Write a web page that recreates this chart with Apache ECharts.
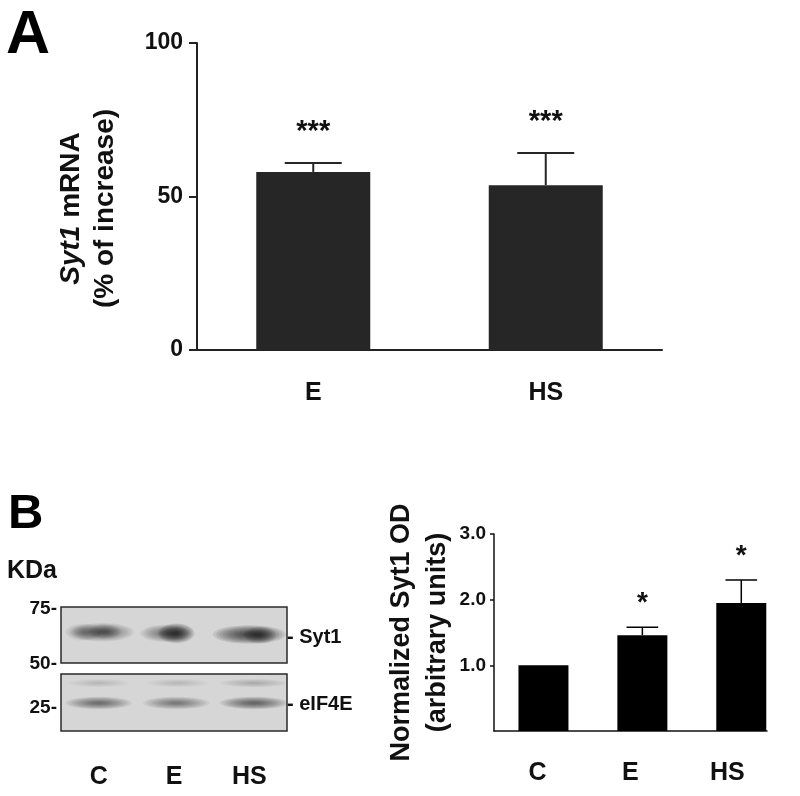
<!DOCTYPE html>
<html>
<head>
<meta charset="utf-8">
<script src="https://cdn.jsdelivr.net/npm/echarts@6/dist/echarts.min.js"></script>
<style>
  html, body { margin: 0; padding: 0; background: #fff; }
  #chart { width: 800px; height: 796px; }
</style>
</head>
<body>
<div id="chart"></div>
<script>
// ---------- Panel A data ----------
const catsA = ['E', 'HS'];
const meanA = [58.0, 53.7];
const semA = [2.9, 10.5];
const sigA = ['***', '***'];

// ---------- Panel B (densitometry) data ----------
const catsB = ['C', 'E', 'HS'];
const meanB = [1.0, 1.46, 1.95];
const semB = [0, 0.12, 0.35];
const sigB = ['', '*', '*'];
const ticksB = [1, 2, 3];

// ---------- Panel B (western blot) ----------
const lanes = ['C', 'E', 'HS'];
const kdaMarks = ['75-', '50-', '25-'];
const blotNames = ['Syt1', 'eIF4E'];
// band blobs: [lane position (0..3), height in box (0..1), half width, half height, intensity]
const syt1Blobs = [
  [0.30, 0.55, 0.22, 0.14, 0.35],
  [0.55, 0.55, 0.38, 0.15, 0.55],
  [0.58, 0.56, 0.20, 0.12, 0.35],
  [1.38, 0.53, 0.30, 0.14, 0.50],
  [1.53, 0.53, 0.22, 0.16, 1.00],
  [2.50, 0.51, 0.44, 0.15, 0.90],
  [2.64, 0.50, 0.20, 0.14, 0.60]
];
const eif4eBlobs = [
  [0.50, 0.49, 0.40, 0.10, 0.60],
  [1.53, 0.49, 0.40, 0.10, 0.50],
  [2.56, 0.49, 0.41, 0.10, 0.65],
  [0.50, 0.84, 0.38, 0.07, 0.10],
  [1.55, 0.84, 0.38, 0.07, 0.10],
  [2.56, 0.84, 0.41, 0.07, 0.20]
];

const FONT = '"Liberation Sans", Arial, Helvetica, sans-serif';

function errRender(sig, capFrac, lw, color, starGap, starSize) {
  return function (params, api) {
    const x = api.value(0), m = api.value(1), e = api.value(2);
    const base = api.coord([x, m]);
    const top = api.coord([x, m + e]);
    const bw = api.size([1, 0])[0];
    const half = bw * capFrac / 2;
    const children = [];
    if (e > 0) {
      children.push({ type: 'line', shape: { x1: base[0], y1: base[1], x2: top[0], y2: top[1] },
        style: { stroke: color, lineWidth: lw } });
      children.push({ type: 'line', shape: { x1: top[0] - half, y1: top[1], x2: top[0] + half, y2: top[1] },
        style: { stroke: color, lineWidth: lw } });
    }
    const s = sig[params.dataIndex];
    if (s) {
      children.push({ type: 'text', x: top[0], y: top[1] - starGap,
        style: { text: s, fontSize: starSize, fontWeight: 'bold', fontFamily: FONT, fill: '#111',
          align: 'center', verticalAlign: 'middle' } });
    }
    return { type: 'group', children: children };
  };
}

function blobRender(params, api) {
  const c = api.coord([api.value(0), api.value(1)]);
  const s = api.size([api.value(2), api.value(3)]);
  const I = api.value(4);
  const steps = [1.1, 1.0, 0.9, 0.8, 0.7, 0.6, 0.5, 0.4, 0.3, 0.2];
  return {
    type: 'group',
    children: steps.map(k => ({
      type: 'ellipse',
      shape: { cx: c[0], cy: c[1], rx: s[0] * k, ry: s[1] * k },
      style: { fill: 'rgba(0,0,0,' + (I * 0.1).toFixed(3) + ')' }
    }))
  };
}

const chart = echarts.init(document.getElementById('chart'), null, { renderer: 'canvas' });

const option = {
  animation: false,
  backgroundColor: '#ffffff',
  textStyle: { fontFamily: FONT },
  grid: [
    { left: 197, top: 43, width: 465, height: 307 },
    { left: 494, top: 534, width: 273, height: 197 },
    { left: 61, top: 607, width: 226, height: 56, show: true, backgroundColor: '#d6d6d6', borderColor: '#2a2a2a', borderWidth: 1.5 },
    { left: 61, top: 674, width: 226, height: 57, show: true, backgroundColor: '#d6d6d6', borderColor: '#2a2a2a', borderWidth: 1.5 }
  ],
  xAxis: [
    {
      gridIndex: 0, type: 'category', data: catsA,
      axisLine: { onZero: false, lineStyle: { color: '#222', width: 2 } },
      axisTick: { show: false },
      axisLabel: { fontSize: 25, fontWeight: 'bold', color: '#111', margin: 31, fontFamily: FONT },
      splitLine: { show: false }
    },
    {
      gridIndex: 1, type: 'value', min: -0.5, max: 2.26,
      axisLine: { show: true, onZero: false, lineStyle: { color: '#111', width: 1.5 } },
      axisTick: { show: false },
      splitLine: { show: false },
      axisLabel: {
        customValues: [0, 1, 2],
        margin: 30,
        formatter: function (v) { const i = Math.round(v); return '{c' + i + '|' + catsB[i] + '}'; },
        rich: {
          c0: { fontSize: 25, fontWeight: 'bold', color: '#111', fontFamily: FONT, padding: [0, 12, 0, 0] },
          c1: { fontSize: 25, fontWeight: 'bold', color: '#111', fontFamily: FONT, padding: [0, 24, 0, 0] },
          c2: { fontSize: 25, fontWeight: 'bold', color: '#111', fontFamily: FONT, padding: [0, 28, 0, 0] }
        }
      }
    },
    { gridIndex: 2, type: 'value', min: 0, max: 3, show: false },
    {
      gridIndex: 3, type: 'value', min: 0, max: 3,
      axisLine: { show: false, onZero: false }, axisTick: { show: false }, splitLine: { show: false },
      axisLabel: {
        customValues: [0.5, 1.5, 2.5],
        formatter: function (v) { return lanes[Math.floor(v)]; },
        fontSize: 25, fontWeight: 'bold', color: '#111', margin: 34, fontFamily: FONT
      }
    }
  ],
  yAxis: [
    {
      gridIndex: 0, type: 'value', min: 0, max: 100, interval: 50,
      axisLine: { show: true, onZero: false, lineStyle: { color: '#222', width: 2 } },
      axisTick: { show: true, length: 8, lineStyle: { color: '#222', width: 2 } },
      axisLabel: { fontSize: 23, fontWeight: 'bold', color: '#111', margin: 14, fontFamily: FONT },
      splitLine: { show: false },
      name: '{i|Syt1} mRNA\n(% of increase)',
      nameLocation: 'middle', nameRotate: 90, nameGap: 75,
      nameTextStyle: {
        fontSize: 28, fontWeight: 'bold', color: '#111', lineHeight: 34, fontFamily: FONT,
        padding: [0, 24, 0, 0],
        rich: { i: { fontStyle: 'italic', fontWeight: 'bold', fontSize: 28, lineHeight: 34, color: '#111', fontFamily: FONT } }
      }
    },
    {
      gridIndex: 1, type: 'value', min: 0, max: 3, interval: 1,
      axisLine: { show: true, onZero: false, lineStyle: { color: '#111', width: 1.5 } },
      axisTick: { show: true, length: 4, customValues: ticksB, lineStyle: { color: '#111', width: 1.5 } },
      axisLabel: {
        customValues: ticksB,
        formatter: function (v) { return Number(v).toFixed(1); },
        fontSize: 19, fontWeight: 'bold', color: '#111', margin: 8, fontFamily: FONT
      },
      splitLine: { show: false },
      name: 'Normalized Syt1 OD\n(arbitrary units)',
      nameLocation: 'middle', nameRotate: 90, nameGap: 34,
      nameTextStyle: { fontSize: 27, fontWeight: 'bold', color: '#111', lineHeight: 36, fontFamily: FONT }
    },
    { gridIndex: 2, type: 'value', min: 0, max: 1, show: false },
    { gridIndex: 3, type: 'value', min: 0, max: 1, show: false }
  ],
  series: [
    {
      type: 'bar', xAxisIndex: 0, yAxisIndex: 0, data: meanA, barWidth: 114,
      itemStyle: { color: '#262626' }, z: 2
    },
    {
      type: 'custom', xAxisIndex: 0, yAxisIndex: 0,
      data: catsA.map((c, i) => [c, meanA[i], semA[i]]),
      renderItem: errRender(sigA, 0.245, 2, '#262626', 31, 29), z: 3
    },
    {
      type: 'bar', xAxisIndex: 1, yAxisIndex: 1, data: meanB.map((v, i) => [i, v]), barWidth: 50,
      itemStyle: { color: '#000' }, z: 2
    },
    {
      type: 'custom', xAxisIndex: 1, yAxisIndex: 1,
      data: catsB.map((c, i) => [i, meanB[i], semB[i]]),
      renderItem: errRender(sigB, 0.32, 1.5, '#000', 24, 28), z: 3
    },
    {
      type: 'custom', xAxisIndex: 2, yAxisIndex: 2, data: syt1Blobs, clip: true,
      renderItem: blobRender, silent: true
    },
    {
      type: 'custom', xAxisIndex: 3, yAxisIndex: 3, data: eif4eBlobs, clip: true,
      renderItem: blobRender, silent: true
    }
  ],
  graphic: [
    { type: 'text', left: 6, top: 6, style: { text: 'A', fontSize: 61, fontWeight: 'bold', fill: '#000', fontFamily: FONT } },
    { type: 'text', left: 8, top: 490, style: { text: 'B', fontSize: 49, fontWeight: 'bold', fill: '#000', fontFamily: FONT } },
    { type: 'text', x: 7, y: 571, style: { text: 'KDa', fontSize: 25, fontWeight: 'bold', fill: '#111', fontFamily: FONT, verticalAlign: 'middle' } },
    { type: 'text', x: 57, y: 609, style: { text: kdaMarks[0], fontSize: 19, fontWeight: 'bold', fill: '#111', fontFamily: FONT, align: 'right', verticalAlign: 'middle' } },
    { type: 'text', x: 57, y: 664, style: { text: kdaMarks[1], fontSize: 19, fontWeight: 'bold', fill: '#111', fontFamily: FONT, align: 'right', verticalAlign: 'middle' } },
    { type: 'text', x: 57, y: 708, style: { text: kdaMarks[2], fontSize: 19, fontWeight: 'bold', fill: '#111', fontFamily: FONT, align: 'right', verticalAlign: 'middle' } },
    { type: 'text', x: 287, y: 637, style: { text: '- ' + blotNames[0], fontSize: 20, fontWeight: 'bold', fill: '#111', fontFamily: FONT, verticalAlign: 'middle' } },
    { type: 'text', x: 287, y: 704, style: { text: '- ' + blotNames[1], fontSize: 20, fontWeight: 'bold', fill: '#111', fontFamily: FONT, verticalAlign: 'middle' } }
  ]
};

chart.setOption(option);
</script>
</body>
</html>
